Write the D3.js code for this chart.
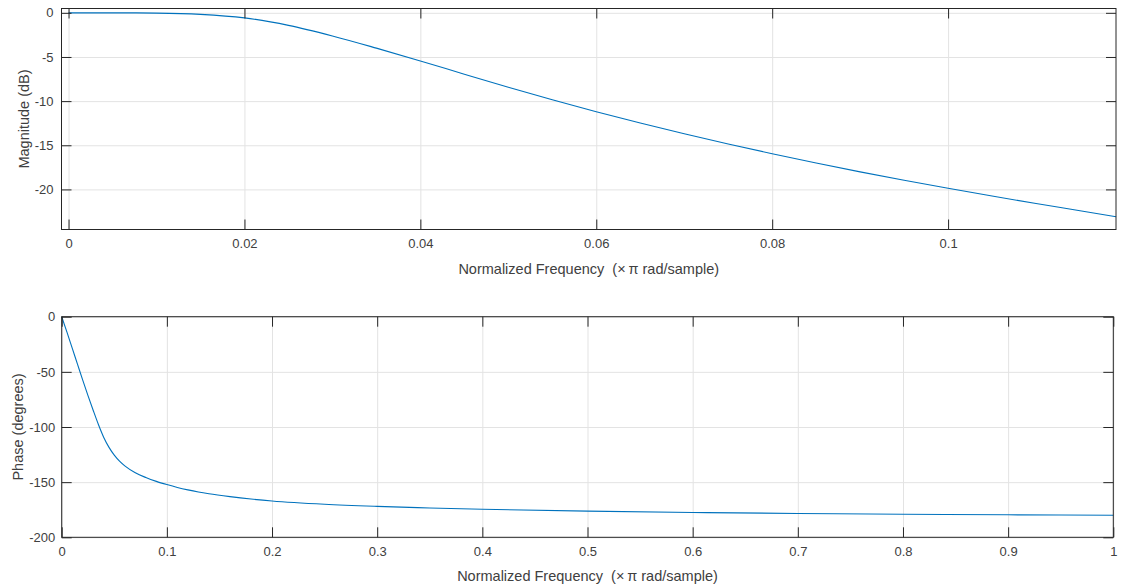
<!DOCTYPE html>
<html>
<head>
<meta charset="utf-8">
<script src="https://cdn.jsdelivr.net/npm/d3@7"></script>
<style>
  html,body{margin:0;padding:0;background:#fff;}
  svg{display:block;font-family:"Liberation Sans",Arial,Helvetica,sans-serif;}
</style>
</head>
<body>
<div id="chart"></div>
<script>
// magnitude response (freq in ×π rad/sample, dB)
const magFreq=[0,0.005,0.01,0.015,0.02,0.025,0.03,0.035,0.04,0.045,0.05,0.055,0.06,0.065,0.07,0.075,0.08,0.085,0.09,0.095,0.1,0.105,0.11,0.115,0.1191];
const magDb=[0,-0.002,-0.03,-0.17,-0.57,-1.42,-2.62,-4.0,-5.45,-6.95,-8.43,-9.85,-11.2,-12.48,-13.7,-14.86,-15.96,-17.01,-18.01,-18.96,-19.87,-20.75,-21.6,-22.42,-23.1];
// phase response (degrees)
const phFreq=[0,0.005,0.01,0.015,0.02,0.025,0.03,0.035,0.04,0.045,0.05,0.055,0.06,0.07,0.08,0.09,0.1,0.11,0.12,0.13,0.14,0.16,0.18,0.2,0.25,0.3,0.35,0.4,0.5,0.6,0.7,0.8,0.9,1];
const phDeg=[0,-14,-28.5,-43,-57.5,-71.5,-85,-98,-109.5,-118.5,-125.5,-131,-135.3,-141.5,-145.8,-149.3,-152.2,-154.8,-157.0,-158.9,-160.5,-163.1,-165.3,-167.1,-170.1,-172.0,-173.4,-174.6,-176.3,-177.5,-178.4,-179.1,-179.6,-180];

const magTicksX=[0,0.02,0.04,0.06,0.08,0.1];
const magTicksY=[0,-5,-10,-15,-20];
const phTicksX=[0,0.1,0.2,0.3,0.4,0.5,0.6,0.7,0.8,0.9,1];
const phTicksY=[0,-50,-100,-150,-200];

const xLabel="Normalized Frequency  (\u00d7\u2009\u03c0 rad/sample)";

const W=1121,H=585;
const boxColor="#262626",gridColor="#e3e3e3",textColor="#404040",lineColor="#0072bd";
const svg=d3.select("#chart").append("svg").attr("width",W).attr("height",H);
svg.append("rect").attr("width",W).attr("height",H).attr("fill","#fff");

function panel(o){
  const x=d3.scaleLinear().domain(o.xDom).range([o.left,o.right]);
  const y=d3.scaleLinear().domain(o.yDom).range([o.bottom,o.top]);
  const g=svg.append("g");
  const w=o.right-o.left,h=o.bottom-o.top;
  const fmt=d=>String(d);

  // grid
  g.append("g").attr("transform",`translate(0,${o.bottom})`)
    .call(d3.axisBottom(x).tickValues(o.tx).tickSize(-h).tickFormat(""))
    .call(s=>s.select(".domain").remove())
    .call(s=>s.selectAll("line").attr("stroke",gridColor));
  g.append("g").attr("transform",`translate(${o.left},0)`)
    .call(d3.axisLeft(y).tickValues(o.ty).tickSize(-w).tickFormat(""))
    .call(s=>s.select(".domain").remove())
    .call(s=>s.selectAll("line").attr("stroke",gridColor));

  // curve
  g.append("path").datum(o.xs.map((v,i)=>[v,o.ys[i]]))
    .attr("fill","none").attr("stroke",lineColor).attr("stroke-width",1.1)
    .attr("d",d3.line().x(d=>x(d[0])).y(d=>y(d[1])).curve(d3.curveMonotoneX));

  // inner ticks and labels
  const tl=10;
  g.append("g").attr("transform",`translate(0,${o.bottom})`)
    .call(d3.axisBottom(x).tickValues(o.tx).tickSizeInner(-tl).tickSizeOuter(0).tickPadding(9).tickFormat(fmt))
    .call(s=>s.select(".domain").remove())
    .call(s=>s.selectAll("line").attr("stroke",boxColor))
    .call(s=>s.selectAll("text").attr("fill",textColor).attr("font-size",13).attr("font-family",null));
  g.append("g").attr("transform",`translate(0,${o.top})`)
    .call(d3.axisTop(x).tickValues(o.tx).tickSizeInner(-tl).tickSizeOuter(0).tickFormat(""))
    .call(s=>s.select(".domain").remove())
    .call(s=>s.selectAll("line").attr("stroke",boxColor));
  g.append("g").attr("transform",`translate(${o.left},0)`)
    .call(d3.axisLeft(y).tickValues(o.ty).tickSizeInner(-tl).tickSizeOuter(0).tickPadding(o.yPad).tickFormat(fmt))
    .call(s=>s.select(".domain").remove())
    .call(s=>s.selectAll("line").attr("stroke",boxColor))
    .call(s=>s.selectAll("text").attr("fill",textColor).attr("font-size",13).attr("font-family",null));
  g.append("g").attr("transform",`translate(${o.right},0)`)
    .call(d3.axisRight(y).tickValues(o.ty).tickSizeInner(-tl).tickSizeOuter(0).tickFormat(""))
    .call(s=>s.select(".domain").remove())
    .call(s=>s.selectAll("line").attr("stroke",boxColor));

  // box
  g.append("rect").attr("x",o.left).attr("y",o.top).attr("width",w).attr("height",h)
    .attr("fill","none").attr("stroke",boxColor).attr("stroke-width",1);

  // axis titles
  g.append("text").attr("x",(o.left+o.right)/2).attr("y",o.bottom+44)
    .attr("text-anchor","middle").attr("font-size",14.5).attr("fill",textColor)
    .style("white-space","pre").text(xLabel);
  g.append("text").attr("transform",`translate(${o.yLabelX},${(o.top+o.bottom)/2}) rotate(-90)`)
    .attr("text-anchor","middle").attr("font-size",14.5).attr("fill",textColor).text(o.yLabel);
}

panel({left:61.5,right:1116,top:8.5,bottom:229.5,
  xDom:[-0.0008,0.11909],yDom:[-24.54,0.49],
  tx:magTicksX,ty:magTicksY,xs:magFreq,ys:magDb,yPad:8,
  yLabel:"Magnitude (dB)",yLabelX:29});

panel({left:61.7,right:1113.3,top:316.7,bottom:537.3,
  xDom:[0,1],yDom:[-200,0],
  tx:phTicksX,ty:phTicksY,xs:phFreq,ys:phDeg,yPad:6.5,
  yLabel:"Phase (degrees)",yLabelX:23});
</script>
</body>
</html>
